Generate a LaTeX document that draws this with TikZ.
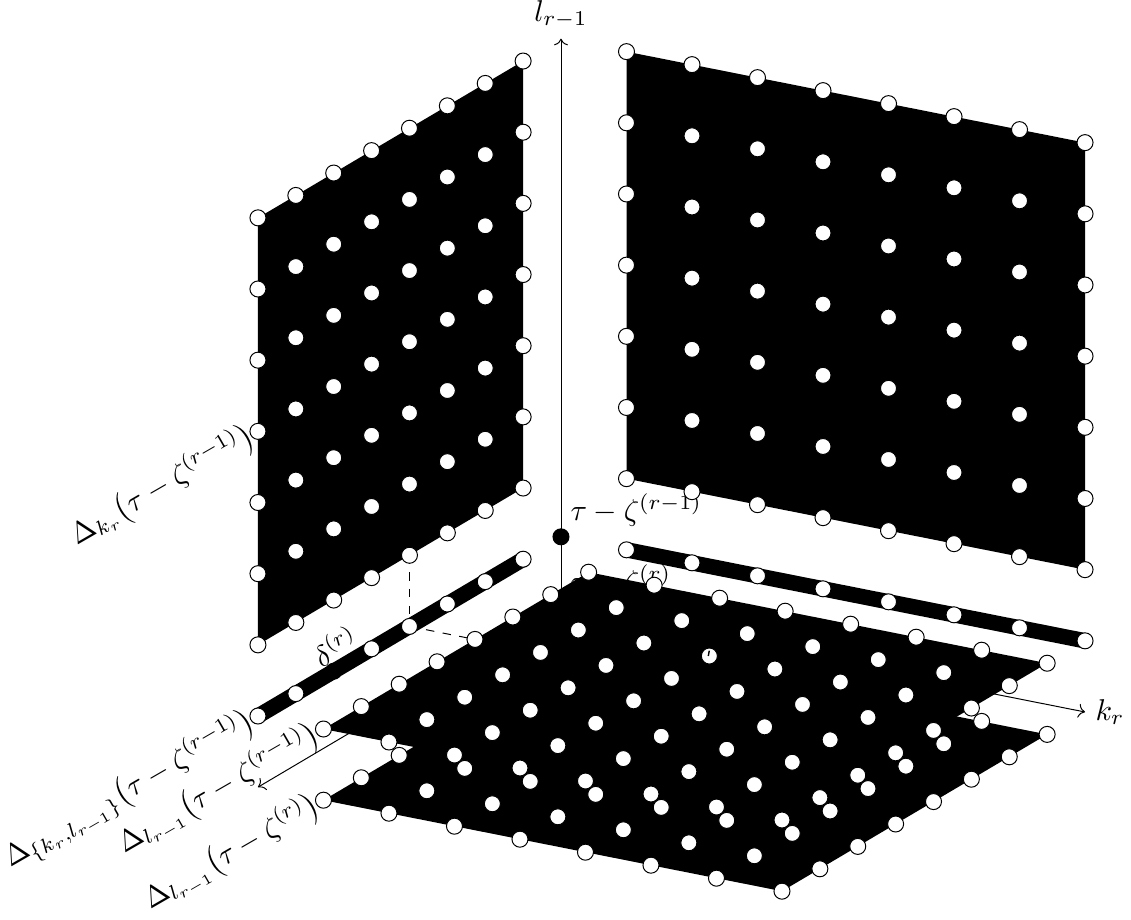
\documentclass[tikz,border=0pt]{standalone}
\usepackage{amssymb,amsmath}
\usetikzlibrary{arrows.meta,calc,positioning}

\begin{document}
\begin{tikzpicture}[x={(0.8188cm,-0.1625cm)},y={(0cm,0.8896cm)},z={(-0.4735cm,-0.28cm)},
line width=.35pt,
wdot/.style={circle,draw,fill=white,inner sep=0pt,minimum size=5.7pt},
bdot/.style={circle,draw,fill=black,inner sep=0pt,minimum size=5.7pt},
txt/.style={scale=1.07},
lab/.style={rotate=30,scale=1.05,inner sep=.5pt,yshift=-1pt}]
\useasboundingbox (-7.0125cm,-3.9cm) rectangle (7.125cm,7.6cm);
\coordinate (O) at (0,0,0);
\coordinate (Ktip) at (8,0,0);
\coordinate (Ltip) at (0,8,0);
\coordinate (Ztip) at (0,0,8);
\coordinate (D1) at (0,2,4);
\coordinate (D2) at (0,1,4);
\coordinate (D3) at (1,1,4);
% axes
\draw[->] (O)--(Ktip);
\draw[->] (O)--(Ltip);
\draw[->] (O)--(Ztip);
\node[txt,above=0pt of Ltip] (Llab) {$l_{r-1}$};
\node[txt,right=0pt of Ktip] (Klab) {$k_r$};
\draw[dashed] (D1)--(D2);
\draw[dashed] (D2)--(D3);
% points on the axis
\node[bdot] (A0) at (O) {};
\node[bdot] (A1) at (0,1,0) {};
\node[txt,above right=-2pt and -2.5pt of A1] (T1) {$\tau-\zeta^{(r-1)}$};
\node[txt,above right=-2pt and -2.5pt of A0] (T0) {$\tau-\zeta^{(r)}$};
% right panel
\fill (1,2,0)--(8,2,0)--(8,8,0)--(1,8,0)--cycle;
\foreach \i in {1,...,8} \foreach \j in {2,...,8}
\node[wdot] (R\i\j) at (\i,\j,0) {};
% left panel
\fill (0,2,1)--(0,2,8)--(0,8,8)--(0,8,1)--cycle;
\foreach \k in {1,...,8} \foreach \j in {2,...,8}
\node[wdot] (L\k\j) at (0,\j,\k) {};
% strips
\draw[line width=5.5pt] (1,1,0)--(8,1,0);
\foreach \i in {1,...,8}
\node[wdot] (T\i) at (\i,1,0) {};
\draw[line width=5.5pt] (0,1,1)--(0,1,8);
\foreach \k in {1,2,3,4,5,7,8}
\node[wdot] (S\k) at (0,1,\k) {};
\node[bdot] (S6) at (0,1,6) {};
% lower plate
\fill (1,0,1)--(8,0,1)--(8,0,8)--(1,0,8)--cycle;
\foreach \i in {1,...,8} \foreach \k in {1,...,8}
\node[wdot] (P\i\k) at (\i,0,\k) {};
% upper plate
\fill (1,1,1)--(8,1,1)--(8,1,8)--(1,1,8)--cycle;
\foreach \i in {1,...,8} \foreach \k in {1,...,8}
\node[wdot] (Q\i\k) at (\i,1,\k) {};
% labels
\node[lab,left=-1pt of L85] (Lab1) {$\Delta_{k_r}\bigl(\tau-\zeta^{(r-1)}\bigr)$};
\node[lab,left=-1pt of S8] (Lab2) {$\Delta_{\{k_r,l_{r-1}\}}\bigl(\tau-\zeta^{(r-1)}\bigr)$};
\node[lab,left=-1pt of Q18] (Lab3) {$\Delta_{l_{r-1}}\bigl(\tau-\zeta^{(r-1)}\bigr)$};
\node[lab,left=-1pt of P18] (Lab4) {$\Delta_{l_{r-1}}\bigl(\tau-\zeta^{(r)}\bigr)$};
\node[lab,above=1pt of S6,xshift=2.8pt] (Dlab) {$\delta^{(r)}$};
\coordinate (M1) at (1.854cm,-0.534cm);
\coordinate (M2) at (1.841cm,-0.6cm);
\draw[line width=.5pt] (M1)--(M2);
\end{tikzpicture}
\end{document}
